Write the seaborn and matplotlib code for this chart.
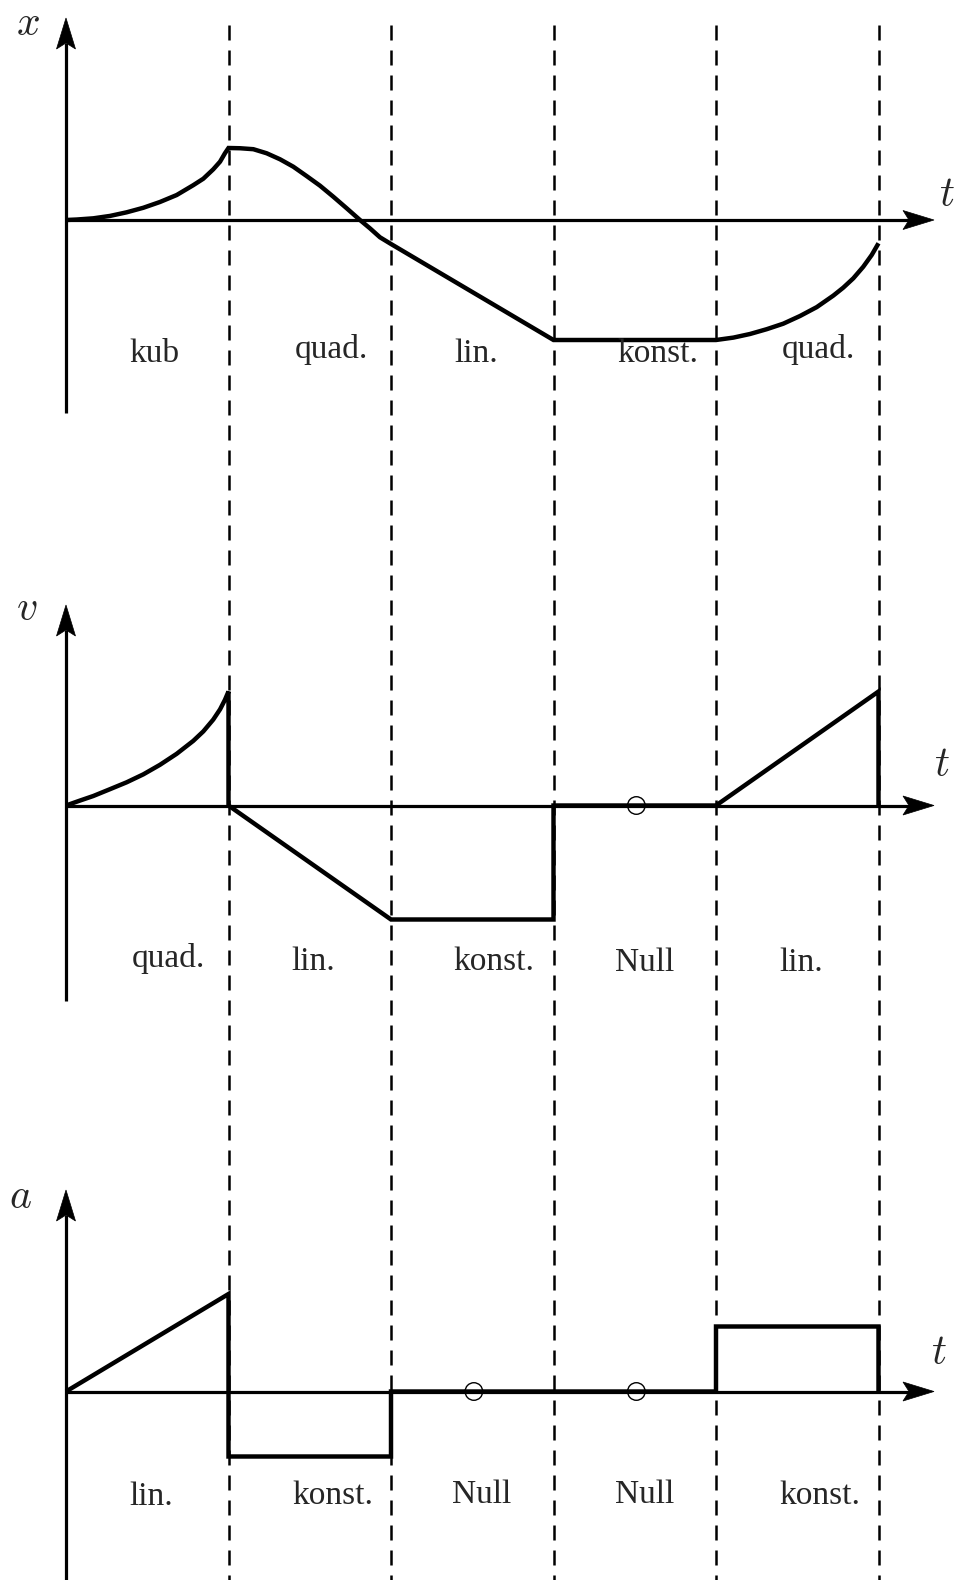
import numpy as np
import matplotlib
matplotlib.use("Agg")
import matplotlib.pyplot as plt
from matplotlib.patches import Polygon
from matplotlib.transforms import IdentityTransform
import seaborn as sns

# ---- data: time in segment units, quantities in arbitrary units ----
# position x(t): cubic, quadratic, linear, constant, quadratic
x_t = [0.0, 0.066, 0.168, 0.271, 0.373, 0.476, 0.578, 0.681, 0.783, 0.845,
       0.906, 0.948, 0.978, 1.0,
       1.071, 1.153, 1.235, 1.317, 1.399, 1.481, 1.563, 1.645, 1.727, 1.809,
       1.871, 1.932, 2.0,
       3.0, 4.0,
       4.107, 4.209, 4.312, 4.414, 4.517, 4.620, 4.722, 4.783, 4.845, 4.906,
       4.958, 5.0]
x_val = [0.0, 0.02, 0.07, 0.17, 0.32, 0.51, 0.75, 1.04, 1.45, 1.72,
         2.11, 2.43, 2.78, 3.0,
         2.99, 2.95, 2.78, 2.53, 2.22, 1.83, 1.43, 0.97, 0.49, 0.0,
         -0.35, -0.72, -1.0,
         -5.0, -5.0,
         -4.90, -4.75, -4.55, -4.32, -4.0, -3.63, -3.15, -2.82, -2.43, -1.95,
         -1.46, -0.97]

# velocity v(t): quadratic, linear, constant, zero, linear
v_t = [0.0, 0.086, 0.168, 0.271, 0.373, 0.476, 0.578, 0.681, 0.783, 0.845,
       0.906, 0.948, 0.978, 1.0,
       1.0, 2.0, 3.0, 3.0, 4.0, 5.0, 5.0]
v_val = [0.0, 0.13, 0.25, 0.43, 0.61, 0.82, 1.07, 1.36, 1.70, 1.95,
         2.26, 2.53, 2.78, 3.0,
         0.0, -3.0, -3.0, 0.0, 0.0, 3.0, 0.0]

# acceleration a(t): linear, constant, zero, zero, constant
a_t = [0.0, 1.0, 1.0, 2.0, 2.0, 4.0, 4.0, 5.0, 5.0]
a_val = [0.0, 3.0, -2.0, -2.0, 0.0, 0.0, 2.0, 2.0, 0.0]

# zero markers
v_zero_t = [3.51]
a_zero_t = [2.51, 3.51]

boundaries = [1, 2, 3, 4, 5]

x_kinds = ["kub", "quad.", "lin.", "konst.", "quad."]
v_kinds = ["quad.", "lin.", "konst.", "Null", "lin."]
a_kinds = ["lin.", "konst.", "Null", "Null", "konst."]

# ---- layout ----
x_label_pos = [(0.542, -5.90), (1.631, -5.76), (2.523, -5.90), (3.641, -5.90), (4.628, -5.76)]
v_label_pos = [(0.628, -4.24), (1.520, -4.33), (2.631, -4.33), (3.563, -4.35), (4.527, -4.35)]
a_label_pos = [(0.527, -3.49), (1.645, -3.47), (2.557, -3.44), (3.563, -3.44), (4.640, -3.47)]

sns.set_theme(style="white")
plt.rcParams["font.family"] = ["Liberation Serif", "DejaVu Serif"]
plt.rcParams["mathtext.fontset"] = "cm"
plt.rcParams["lines.scale_dashes"] = False

W, H, DPI = 955, 1580, 100
fig = plt.figure(figsize=(W / DPI, H / DPI), dpi=DPI)
fig.patch.set_facecolor("white")

T0_PX, T_PX = 66.0, 162.5
XLIM = (-T0_PX / T_PX, (W - T0_PX) / T_PX)

CURVE_LW = 3.2
AXIS_LW = 2.3
LABEL_FS = 24
MATH_FS = 30

# dashed segment boundaries across all three panels
bg = fig.add_axes([0, 0, 1, 1], zorder=0)
bg.set_xlim(*XLIM)
bg.set_ylim(H, 0)
bg.set_axis_off()
for b in boundaries:
    bg.plot([b, b], [25, H], color="black", lw=1.8, dashes=(10.8, 7.2),
            dash_capstyle="butt")


def panel(top_px, bottom_px, axis_px, unit_px):
    ax = fig.add_axes([0, 1 - bottom_px / H, 1, (bottom_px - top_px) / H], zorder=1)
    ax.set_xlim(*XLIM)
    ax.set_ylim((axis_px - bottom_px) / unit_px, (axis_px - top_px) / unit_px)
    ax.set_axis_off()
    return ax


def arrow(ax, start, end, head_len=31, head_half=9.5, notch=6):
    p0 = ax.transData.transform(start)
    p1 = ax.transData.transform(end)
    d = p1 - p0
    u = d / np.hypot(*d)
    n = np.array([-u[1], u[0]])
    back = p1 - u * head_len
    notch_pt = p1 - u * (head_len - notch)
    shaft_end = ax.transData.inverted().transform(notch_pt)
    ax.plot([start[0], shaft_end[0]], [start[1], shaft_end[1]], color="black",
            lw=AXIS_LW, solid_capstyle="butt", clip_on=False, zorder=2)
    head = Polygon([p1, back + n * head_half, notch_pt, back - n * head_half],
                   closed=True, transform=IdentityTransform(), facecolor="black",
                   edgecolor="black", lw=0.5, clip_on=False, zorder=2)
    fig.add_artist(head)


def draw_panel(ax, t, vals, y_bottom, y_tip, t_tip, name, name_pos, t_pos,
               kinds, label_pos, zeros=None):
    arrow(ax, (0, y_bottom), (0, y_tip))
    arrow(ax, (0, 0), (t_tip, 0))
    sns.lineplot(x=t, y=vals, ax=ax, sort=False, estimator=None, color="black",
                 lw=CURVE_LW, solid_joinstyle="miter", solid_capstyle="butt",
                 zorder=3)
    if zeros:
        sns.scatterplot(x=zeros, y=[0.0] * len(zeros), ax=ax, marker="o", s=160,
                        fc="none", ec="black", linewidth=1.0, zorder=4)
        ax.collections[-1].set_facecolor("none")
    ax.text(*name_pos, f"${name}$", fontsize=MATH_FS, ha="center", va="center")
    ax.text(*t_pos, "$t$", fontsize=MATH_FS, ha="center", va="center")
    for k, (px, py) in zip(kinds, label_pos):
        ax.text(px, py, k, fontsize=LABEL_FS, ha="center", va="baseline")


T_TIP = (934 - T0_PX) / T_PX

ax_x = panel(0, 470, 220.0, 24.0)
draw_panel(ax_x, x_t, x_val, (220 - 413) / 24.0, (220 - 18) / 24.0, T_TIP,
           "x", (-0.234, 8.125), (5.42, 1.0), x_kinds, x_label_pos)

ax_v = panel(470, 1060, 805.5, 38.0)
draw_panel(ax_v, v_t, v_val, (805.5 - 1001) / 38.0, (805.5 - 605) / 38.0, T_TIP,
           "v", (-0.24, 5.14), (5.39, 1.04), v_kinds, v_label_pos, zeros=v_zero_t)

ax_a = panel(1060, 1580, 1391.5, 32.5)
draw_panel(ax_a, a_t, a_val, (1391.5 - 1580) / 32.5, (1391.5 - 1190) / 32.5, T_TIP,
           "a", (-0.283, 5.95), (5.372, 1.15), a_kinds, a_label_pos, zeros=a_zero_t)

fig.savefig("out.png", dpi=DPI, facecolor="white")
